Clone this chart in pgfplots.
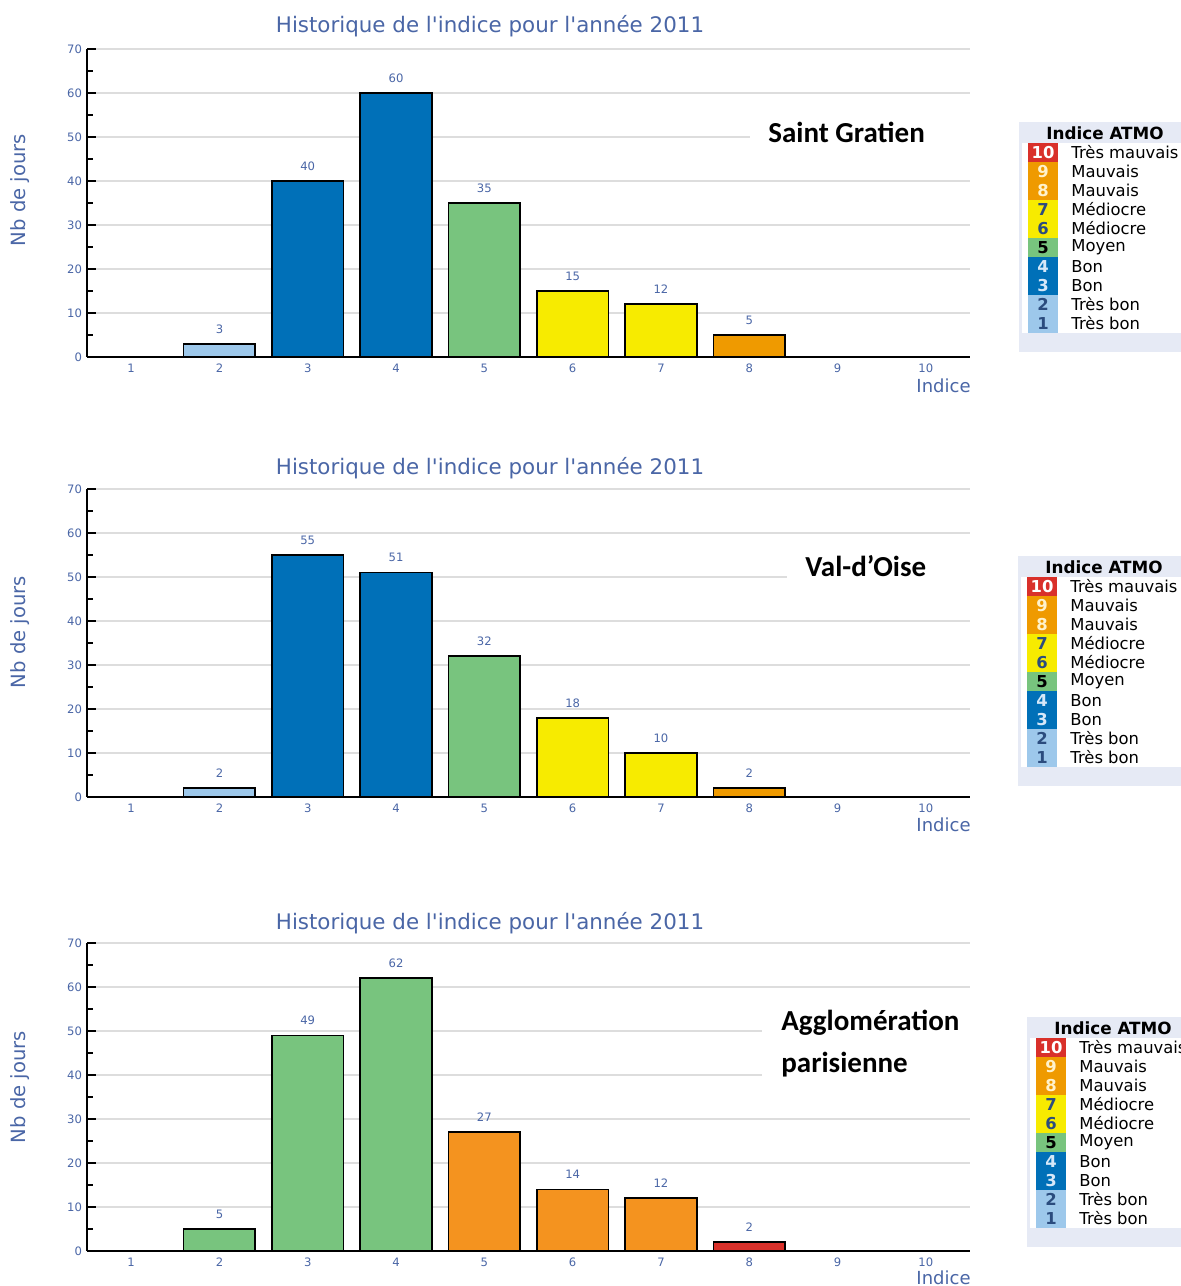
\documentclass[border=0pt]{standalone}
\usepackage{pgfplots}
\pgfplotsset{compat=1.18}
\usepackage{fontspec}
\setmainfont{DejaVu Sans}
\newfontfamily\dvplain{DejaVu Sans}
\newfontfamily\calib{Carlito}
\definecolor{tb}{HTML}{9DC8EB}
\definecolor{bon}{HTML}{0070B8}
\definecolor{moy}{HTML}{78C47E}
\definecolor{med}{HTML}{F7EB00}
\definecolor{mau}{HTML}{EF9A00}
\definecolor{mauB}{HTML}{F4931F}
\definecolor{tmau}{HTML}{D9302A}
\definecolor{txt}{HTML}{4A66A6}
\definecolor{gridc}{HTML}{DDDDDD}
\definecolor{legbg}{HTML}{E6EAF5}
\definecolor{numdk}{HTML}{2B4C7E}
\definecolor{numlt}{HTML}{D6E8F8}
\definecolor{numcr}{HTML}{FFF2CC}

\pgfplotsset{panel/.style={
  anchor=south west, scale only axis, width=441.5pt, height=154pt,
  xmin=0.5, xmax=10.5, ymin=0, ymax=70,
  xtick={1,...,10}, ytick={0,10,...,70}, minor y tick num=1,
  axis x line*=bottom, axis y line*=left,
  ymajorgrids, major grid style={gridc, line width=0.8pt},
  tick align=inside, major tick length=4.5pt, minor tick length=3pt,
  xtick style={draw=none}, ytick style={black, line width=0.8pt},
  minor tick style={black, line width=0.8pt},
  axis line style={black, line width=0.9pt},
  ticklabel style={font=\fontsize{5.8}{6}\selectfont, text=txt},
  xticklabel style={yshift=4.5pt},
  yticklabel style={xshift=1pt},
  /pgf/number format/assume math mode=true,
  ybar, bar width=0.81,
  nodes near coords,
  nodes near coords style={font=\fontsize{5.8}{6}\selectfont, text=txt, yshift=1.5pt},
  clip=false,
}}
\tikzset{bars/.style={bar shift=0pt, fill=#1, draw=black, line width=0.8pt}}

\newcommand\legbox[2]{%
\begin{scope}[shift={(#1,#2)}]
\fill[legbg] (0,0) rectangle (200,230);
\fill[white] (3,21) rectangle (200,211);
\node[font=\bfseries\fontsize{8.4}{9}\selectfont, text=black] at (86,11) {Indice ATMO};
\foreach \n/\c/\tc/\lab [count=\k from 0] in {10/tmau/white/Très mauvais, 9/mau/numcr/Mauvais, 8/mau/numcr/Mauvais, 7/med/numdk/Médiocre, 6/med/numdk/Médiocre, 5/moy/black/Moyen, 4/bon/numlt/Bon, 3/bon/numlt/Bon, 2/tb/numdk/Très bon, 1/tb/numdk/Très bon} {
  \fill[\c] (9,{21+19*\k}) rectangle (39,{40+19*\k});
  \node[font=\bfseries\fontsize{8.2}{9}\selectfont, text=\tc] at (24,{30.5+19*\k}) {\n};
  \node[anchor=west, inner sep=0pt, font=\fontsize{8.2}{9}\selectfont, text=black] at (52,{30.5+19*\k}) {\lab};
}
\end{scope}}

\newcommand\ttl{{\dvplain Historique de l'indice pour l'année 2011}}

\begin{document}
\begin{tikzpicture}
\begin{scope}[x=0.5pt, y=-0.5pt]
\path (0,0) rectangle (1181,1286);
\end{scope}

% Panel 1
\begin{axis}[panel, at={(43.5pt,-178.5pt)}]
\addplot[bars=tb] coordinates {(2,3)};
\addplot[bars=bon] coordinates {(3,40) (4,60)};
\addplot[bars=moy] coordinates {(5,35)};
\addplot[bars=med] coordinates {(6,15) (7,12)};
\addplot[bars=mau] coordinates {(8,5)};
\end{axis}

% Panel 2
\begin{axis}[panel, at={(43.5pt,-398.5pt)}]
\addplot[bars=tb] coordinates {(2,2)};
\addplot[bars=bon] coordinates {(3,55) (4,51)};
\addplot[bars=moy] coordinates {(5,32)};
\addplot[bars=med] coordinates {(6,18) (7,10)};
\addplot[bars=mau] coordinates {(8,2)};
\end{axis}

% Panel 3
\begin{axis}[panel, at={(43.5pt,-625.5pt)}]
\addplot[bars=moy] coordinates {(2,5) (3,49) (4,62)};
\addplot[bars=mauB] coordinates {(5,27) (6,14) (7,12)};
\addplot[bars=tmau] coordinates {(8,2)};
\end{axis}

\begin{scope}[x=0.5pt, y=-0.5pt]
% titles
\foreach \yy in {26,468,923}
  \node[font=\fontsize{10.7}{12}\selectfont, text=txt] at (490,\yy) {\ttl};
\foreach \yy in {190,632,1087}
  \node[rotate=90, font=\fontsize{9.8}{11}\selectfont, text=txt] at (20,\yy) {Nb de jours};
\foreach \yy in {386,825,1278}
  \node[anchor=east, inner sep=0pt, font=\fontsize{9}{10}\selectfont, text=txt] at (971,\yy) {Indice};

% station labels
\fill[white] (750,116) rectangle (972,150);
\node[anchor=west, inner sep=0pt, font=\calib\bfseries\fontsize{14.5}{16}\selectfont] at (768,132) {Saint Gratien};
\fill[white] (787,550) rectangle (972,588);
\node[anchor=west, inner sep=0pt, font=\calib\bfseries\fontsize{14.5}{16}\selectfont] at (805,566) {Val-d’Oise};
\fill[white] (762,1005) rectangle (972,1085);
\node[anchor=west, inner sep=0pt, font=\calib\bfseries\fontsize{14.5}{16}\selectfont] at (781,1023) {Agglomération};
\node[anchor=west, inner sep=0pt, font=\calib\bfseries\fontsize{14.5}{16}\selectfont] at (781,1065) {parisienne};
\end{scope}

% legends (not counted in the picture size, cut at the page edge as in the reference)
\begin{scope}[x=0.5pt, y=-0.5pt, overlay]
\legbox{1019}{122}
\legbox{1018}{556}
\legbox{1027}{1017}
\end{scope}
\end{tikzpicture}
\end{document}
